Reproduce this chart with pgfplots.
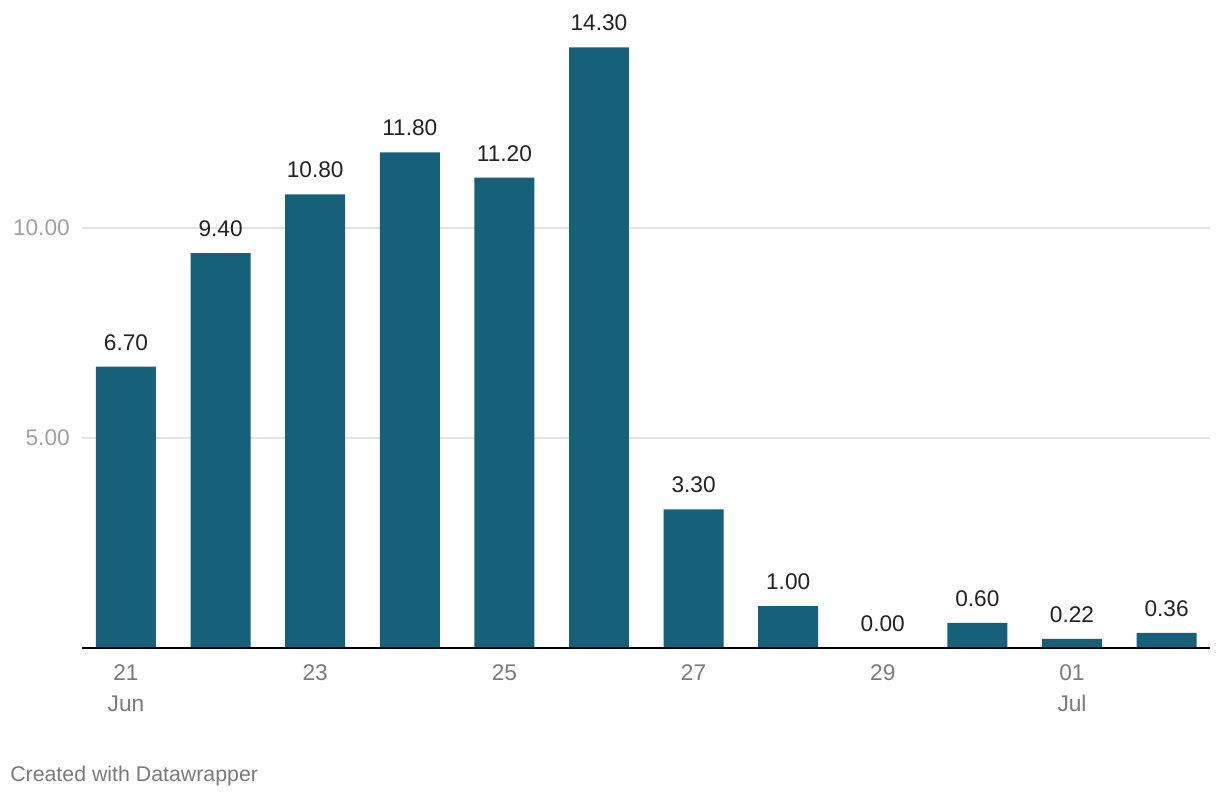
\documentclass[border=0pt]{standalone}
\usepackage{pgfplots}
\pgfplotsset{compat=1.18}
\usepackage{fontspec}
\setmainfont{Liberation Sans}
\definecolor{barblue}{HTML}{16607A}
\definecolor{gridgray}{HTML}{E3E3E3}
\definecolor{ylabgray}{HTML}{A0A0A0}
\definecolor{xlabgray}{HTML}{7A7A7A}
\definecolor{valtext}{HTML}{222222}

\pgfplotstableread{
x val
0 6.70
1 9.40
2 10.80
3 11.80
4 11.20
5 14.30
6 3.30
7 1.00
8 0.00
9 0.60
10 0.22
11 0.36
}\rain

\begin{document}
\begin{tikzpicture}
\useasboundingbox (-61.5pt,-114pt) rectangle (853.5pt,486pt);
\begin{axis}[
  at={(0,0)}, anchor=south west,
  scale only axis,
  width=846pt, height=478.8pt,
  xmin=-0.465, xmax=11.459,
  ymin=0, ymax=15.2,
  axis line style={draw=none},
  clip=false,
  major tick length=0pt,
  ytick={5,10},
  yticklabels={5.00,10.00},
  ymajorgrids,
  grid style={gridgray, line width=1.1pt},
  yticklabel style={font=\fontsize{17}{20}\selectfont, text=ylabgray, anchor=east, inner sep=0pt, xshift=-9pt},
  xtick={0,2,4,6,8,10},
  xticklabels={21\\Jun,23,25,27,29,01\\Jul},
  xticklabel style={font=\fontsize{17}{23}\selectfont, text=xlabgray, align=center, anchor=north, inner sep=0pt, yshift=-12.5pt},
  /pgf/number format/assume math mode=true,
]
\addplot[ybar, bar width=0.634, fill=barblue, draw=none,
  nodes near coords,
  nodes near coords style={font=\fontsize{17}{20}\selectfont, text=valtext, anchor=south, inner sep=0pt, yshift=12pt,
    /pgf/number format/.cd, fixed, fixed zerofill, precision=2, assume math mode=true},
] table[x=x, y=val] {\rain};
\draw[black, line width=1.3pt] (rel axis cs:0,0) -- (rel axis cs:1,0);
\end{axis}
\node[anchor=west, inner sep=0pt, text=xlabgray, font=\fontsize{16}{19}\selectfont] at (-54pt,-96pt) {Created with Datawrapper};
\end{tikzpicture}
\end{document}
